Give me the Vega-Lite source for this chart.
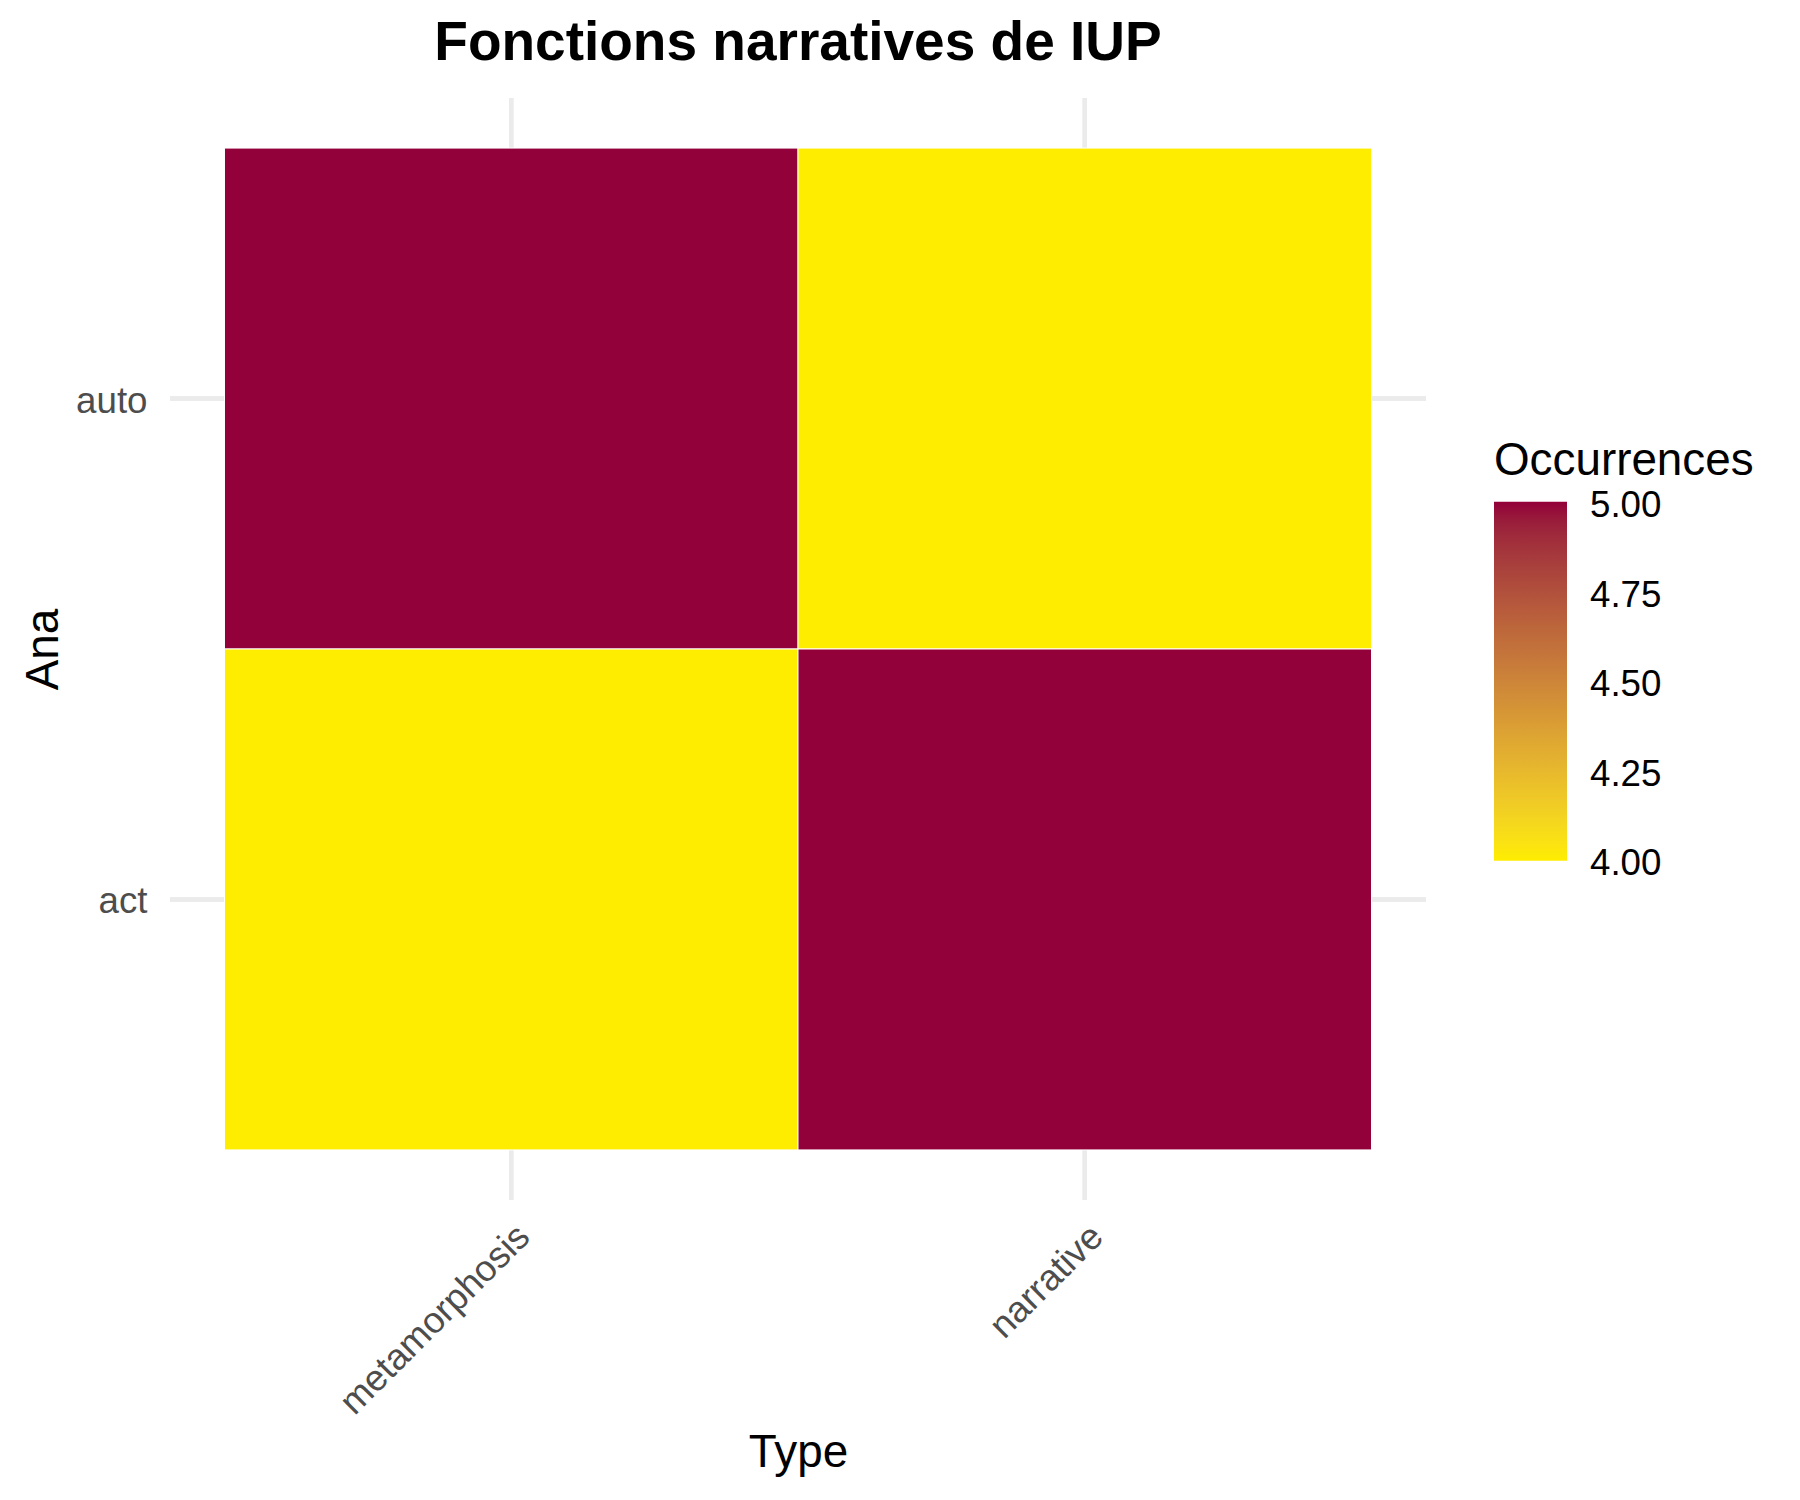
{
  "$schema": "https://vega.github.io/schema/vega-lite/v6.json",
  "autosize": {"type": "none"},
  "padding": {"left": 170, "top": 98, "right": 374, "bottom": 300},
  "width": 1256,
  "height": 1102,
  "background": "white",
  "title": {
    "text": "Fonctions narratives de IUP",
    "anchor": "middle",
    "frame": "group",
    "font": "Liberation Sans",
    "fontSize": 55,
    "fontWeight": "bold",
    "color": "black",
    "offset": 35,
    "baseline": "alphabetic",
    "dy": 54
  },
  "data": {
    "values": [
      {"Type": "metamorphosis", "Ana": "auto", "Occurrences": 5},
      {"Type": "narrative", "Ana": "auto", "Occurrences": 4},
      {"Type": "metamorphosis", "Ana": "act", "Occurrences": 4},
      {"Type": "narrative", "Ana": "act", "Occurrences": 5}
    ]
  },
  "layer": [
    {
      "mark": {"type": "rule", "color": "#EBEBEB", "strokeWidth": 4.4},
      "encoding": {
        "x": {"field": "Type", "type": "nominal", "bandPosition": 0.5, "title": "Type"}
      }
    },
    {
      "mark": {"type": "rule", "color": "#EBEBEB", "strokeWidth": 4.4},
      "encoding": {
        "y": {"field": "Ana", "type": "nominal", "sort": ["auto", "act"], "bandPosition": 0.5, "title": "Ana"}
      }
    },
    {
      "mark": {"type": "rect", "stroke": "white", "strokeWidth": 1},
      "encoding": {
        "x": {
          "field": "Type",
          "type": "nominal",
          "title": "Type",
          "scale": {"paddingInner": 0, "paddingOuter": 0.095}
        },
        "y": {
          "field": "Ana",
          "type": "nominal",
          "title": "Ana",
          "sort": ["auto", "act"],
          "scale": {"paddingInner": 0, "paddingOuter": 0.1}
        },
        "color": {
          "field": "Occurrences",
          "type": "quantitative",
          "scale": {"domain": [3.999, 5.001], "range": ["#FFED00", "#93003A"], "interpolate": "lab"},
          "legend": {
            "orient": "none",
            "legendX": 1324,
            "legendY": 341,
            "direction": "vertical",
            "gradientLength": 359,
            "gradientThickness": 73,
            "gradientStrokeWidth": 0,
            "title": "Occurrences",
            "titleFont": "Liberation Sans",
            "titleFontSize": 45.8,
            "titleFontWeight": "normal",
            "titleColor": "black",
            "titlePadding": 17,
            "titleLimit": 1000,
            "labelFont": "Liberation Sans",
            "labelFontSize": 36.7,
            "labelColor": "black",
            "labelOffset": 23,
            "labelBaseline": "middle",
            "labelOverlap": false,
            "labelLimit": 1000,
            "values": [4, 4.25, 4.5, 4.75, 5],
            "format": ".2f",
            "encode": {"labels": {"update": {"dy": {"value": 4}}}}
          }
        }
      }
    }
  ],
  "config": {
    "view": {"stroke": null},
    "axis": {
      "ticks": false,
      "domain": false,
      "grid": false,
      "labelFont": "Liberation Sans",
      "labelFontSize": 36.7,
      "labelColor": "#4D4D4D",
      "labelLimit": 1000,
      "titleFont": "Liberation Sans",
      "titleFontSize": 45.8,
      "titleFontWeight": "normal",
      "titleColor": "black",
      "titleBaseline": "alphabetic"
    },
    "axisX": {
      "labelAngle": -45,
      "labelAlign": "right",
      "labelBaseline": "top",
      "labelPadding": 18,
      "labelOverlap": false,
      "titleY": 266
    },
    "axisY": {
      "labelPadding": 23,
      "labelOffset": 3,
      "titleX": -113,
      "titleY": 551
    }
  }
}
